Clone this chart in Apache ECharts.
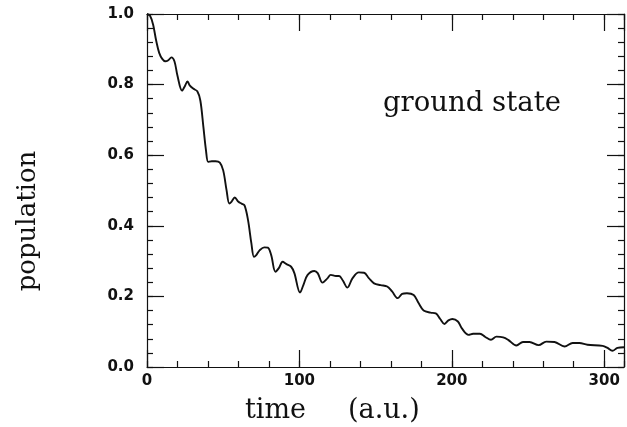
<!DOCTYPE html>
<html>
<head>
<meta charset="utf-8">
<script src="https://cdn.jsdelivr.net/npm/echarts@6/dist/echarts.min.js"></script>
<style>
html,body{margin:0;padding:0;background:#fff;}
#chart{width:627px;height:427px;}
</style>
</head>
<body>
<div id="chart"></div>
<script>
// time (a.u.)
const times = [0, 2, 4, 6, 8, 10, 12, 14, 16, 18, 20, 23, 25, 26.5, 28, 30.5, 33, 35, 37, 38.7, 40.2, 42.5, 45, 47.8, 50, 52.2, 54, 55.4, 57.6, 60, 62, 64, 66.3, 68.5, 70.2, 71.7, 74, 77, 79.3, 81.5, 84.3, 86.5, 89, 91.3, 94.6, 96.7, 100.4, 102.6, 105.4, 109.8, 112, 115.2, 118.4, 120.6, 124, 126, 128.5, 131.5, 134.8, 139, 142.4, 145.7, 149, 153.3, 157.6, 160.8, 164.5, 167.4, 170.6, 175, 178.2, 181.5, 186, 189.5, 192.4, 195.2, 197.8, 200.4, 204, 206.5, 211, 214, 218.5, 222, 225.7, 229.3, 233.7, 237, 242.4, 246.7, 251, 257, 262, 267.4, 274, 279.3, 283.7, 289, 299, 302.2, 305.4, 308.7, 313];
// ground state population
const population = [1.0, 0.995, 0.97, 0.925, 0.89, 0.873, 0.866, 0.869, 0.877, 0.866, 0.825, 0.783, 0.797, 0.809, 0.798, 0.788, 0.781, 0.755, 0.68, 0.614, 0.581, 0.583, 0.583, 0.579, 0.557, 0.501, 0.463, 0.468, 0.48, 0.468, 0.463, 0.458, 0.416, 0.35, 0.312, 0.317, 0.331, 0.339, 0.338, 0.317, 0.27, 0.28, 0.298, 0.292, 0.284, 0.266, 0.211, 0.232, 0.261, 0.272, 0.266, 0.239, 0.251, 0.261, 0.258, 0.258, 0.245, 0.225, 0.251, 0.268, 0.267, 0.251, 0.237, 0.232, 0.228, 0.214, 0.195, 0.207, 0.209, 0.204, 0.181, 0.16, 0.154, 0.152, 0.136, 0.122, 0.132, 0.136, 0.129, 0.11, 0.091, 0.094, 0.094, 0.085, 0.077, 0.086, 0.084, 0.077, 0.061, 0.071, 0.071, 0.062, 0.072, 0.071, 0.058, 0.068, 0.068, 0.063, 0.06, 0.054, 0.046, 0.054, 0.056];

const xMin = 0, xMax = 313, xMajor = 100, xMinor = 20;
const yMin = 0, yMax = 1, yMajor = 0.2, yMinor = 0.04;
const xTitleParts = ['time', '(a.u.)'];
const yTitle = 'population';
const annotation = 'ground state';

const ink = '#111';
const tickFont = {fontFamily: 'DejaVu Sans', fontWeight: 'bold', fontSize: 15, color: ink};

function xAx(position, major, labels) {
  return {
    type: 'value', position: position, min: xMin, max: xMax,
    interval: major ? xMajor : xMinor,
    axisLine: {show: major, onZero: false, lineStyle: {color: ink, width: 1.2}},
    axisTick: {show: true, inside: true, length: major ? 17 : 6, lineStyle: {color: ink, width: 1.2}},
    axisLabel: labels ? Object.assign({show: true, margin: 7,
      formatter: v => (Math.abs(v % xMajor) < 1e-6 ? String(v) : '')}, tickFont) : {show: false},
    splitLine: {show: false}
  };
}
function yAx(position, major, labels) {
  return {
    type: 'value', position: position, min: yMin, max: yMax,
    interval: major ? yMajor : yMinor,
    axisLine: {show: major, onZero: false, lineStyle: {color: ink, width: 1.2}},
    axisTick: {show: true, inside: true, length: major ? 17 : 6, lineStyle: {color: ink, width: 1.2}},
    axisLabel: labels ? Object.assign({show: true, margin: 13,
      formatter: v => v.toFixed(1)}, tickFont) : {show: false},
    splitLine: {show: false}
  };
}

const chart = echarts.init(document.getElementById('chart'), null, {renderer: 'canvas'});
chart.setOption({
  animation: false,
  backgroundColor: '#fff',
  grid: {left: 147, right: 0, top: 14, bottom: 60},
  xAxis: [xAx('bottom', true, true), xAx('bottom', false, false), xAx('top', true, false), xAx('top', false, false)],
  yAxis: [yAx('left', true, true), yAx('left', false, false), yAx('right', true, false), yAx('right', false, false)],
  series: [{
    type: 'line', xAxisIndex: 0, yAxisIndex: 0,
    data: times.map((t, i) => [t, population[i]]),
    showSymbol: false, smooth: 0.35,
    lineStyle: {color: ink, width: 1.9}
  }],
  graphic: [
    {type: 'text', x: 28, y: 221, rotation: Math.PI / 2,
     style: {text: yTitle, font: '26px "DejaVu Serif"', fill: ink, align: 'center', verticalAlign: 'middle'}},
    {type: 'text', x: 245, y: 411,
     style: {text: xTitleParts[0], font: '27px "DejaVu Serif"', fill: ink, align: 'left', verticalAlign: 'middle'}},
    {type: 'text', x: 348, y: 411,
     style: {text: xTitleParts[1], font: '27px "DejaVu Serif"', fill: ink, align: 'left', verticalAlign: 'middle'}},
    {type: 'text', x: 383, y: 104,
     style: {text: annotation, font: '27.5px "DejaVu Serif"', fill: ink, align: 'left', verticalAlign: 'middle'}}
  ]
});
</script>
</body>
</html>
